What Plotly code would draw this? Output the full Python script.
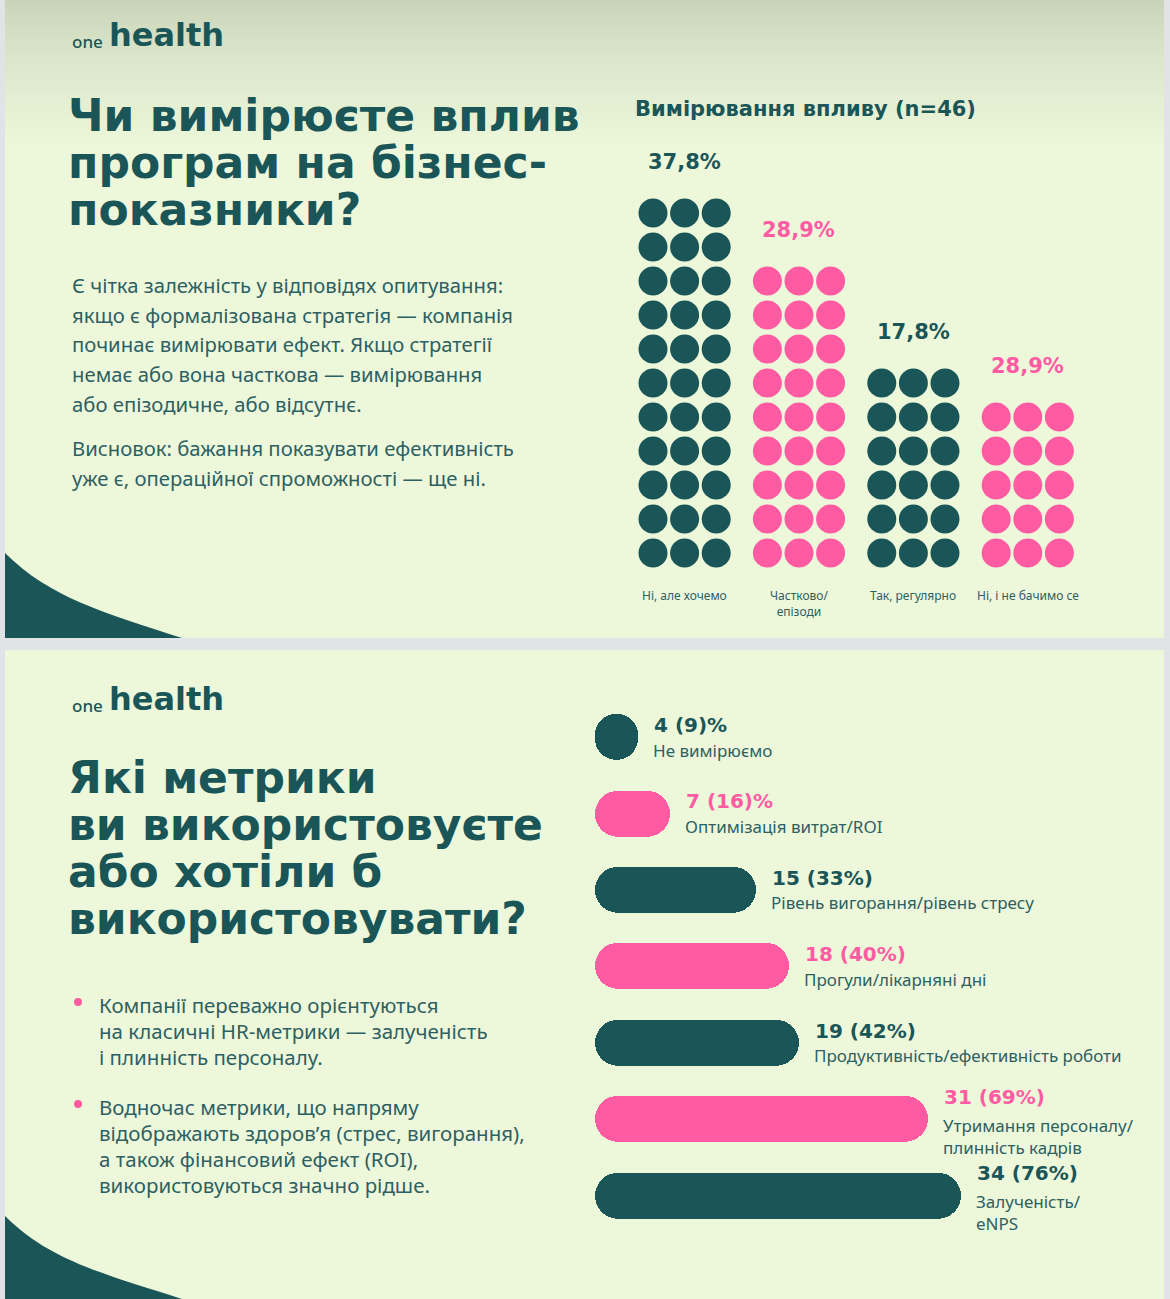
import plotly.graph_objects as go

# ------------------------------------------------------------------ data
impact_title = "Вимірювання впливу (n=46)"
impact_categories = ["Ні, але хочемо", "Частково/<br>епізоди", "Так, регулярно", "Ні, і не бачимо се"]
impact_pct_labels = ["37,8%", "28,9%", "17,8%", "28,9%"]
impact_dot_rows = [11, 9, 6, 5]          # rows of 3 dots per column

metric_names = [
    "Не вимірюємо",
    "Оптимізація витрат/ROI",
    "Рівень вигорання/рівень стресу",
    "Прогули/лікарняні дні",
    "Продуктивність/ефективність роботи",
    "Утримання персоналу/<br>плинність кадрів",
    "Залученість/<br>eNPS",
]
metric_counts = [4, 7, 15, 18, 19, 31, 34]
metric_value_labels = ["4 (9)%", "7 (16)%", "15 (33%)", "18 (40%)", "19 (42%)", "31 (69%)", "34 (76%)"]

slide1_title = ["Чи вимірюєте вплив", "програм на бізнес-", "показники?"]
slide1_body = [
    "Є чітка залежність у відповідях опитування:",
    "якщо є формалізована стратегія — компанія",
    "починає вимірювати ефект. Якщо стратегії",
    "немає або вона часткова — вимірювання",
    "або епізодичне, або відсутнє.",
]
slide1_body2 = [
    "Висновок: бажання показувати ефективність",
    "уже є, операційної спроможності — ще ні.",
]
slide2_title = ["Які метрики", "ви використовуєте", "або хотіли б", "використовувати?"]
slide2_bullets = [
    ["Компанії переважно орієнтуються", "на класичні HR-метрики — залученість", "і плинність персоналу."],
    ["Водночас метрики, що напряму", "відображають здоров’я (стрес, вигорання),",
     "а також фінансовий ефект (ROI),", "використовуються значно рідше."],
]

# ------------------------------------------------------------------ style
W, H = 1170, 1299
TEAL = "#1A5558"
TEXT = "#2E6062"
PINK = "#FF5BA3"
BG = "#EDF8DB"
FRAME = "#E2E3E7"
HEAVY = "DejaVu Sans, Inter, sans-serif"
BODY = "Noto Sans, Lato, sans-serif"


def fx(px):
    return px / W


def fy(py):
    return 1 - py / H


def mix(c1, c2, t):
    a = [int(c1[i:i + 2], 16) for i in (1, 3, 5)]
    b = [int(c2[i:i + 2], 16) for i in (1, 3, 5)]
    return "#" + "".join(f"{round(a[k] + (b[k] - a[k]) * t):02x}" for k in range(3))


fig = go.Figure()
shapes = []
annotations = []

# slide backgrounds
SL, SR = 5, 1164
shapes.append(dict(type="rect", xref="paper", yref="paper", x0=fx(SL), x1=fx(SR), y0=fy(638), y1=fy(0),
                   fillcolor=BG, line_width=0, layer="below"))
shapes.append(dict(type="rect", xref="paper", yref="paper", x0=fx(SL), x1=fx(SR), y0=fy(1299), y1=fy(650),
                   fillcolor=BG, line_width=0, layer="below"))
# top gradient of slide 1
NB = 30
for i in range(NB):
    t = i / (NB - 1)
    shapes.append(dict(type="rect", xref="paper", yref="paper", x0=fx(SL), x1=fx(SR),
                       y0=fy(i * 5 + 5), y1=fy(i * 5), fillcolor=mix("#C9D4BA", BG, t ** 0.8),
                       line_width=0, layer="below"))


def wave(top, bottom):
    p = (f"M {fx(SL)},{fy(top)} C {fx(50)},{fy(top + 45)} {fx(105)},{fy(bottom - 25)} "
         f"{fx(182)},{fy(bottom)} L {fx(SL)},{fy(bottom)} Z")
    return dict(type="path", xref="paper", yref="paper", path=p, fillcolor=TEAL, line_width=0, layer="below")


shapes.append(wave(553, 638))
shapes.append(wave(1216, 1299))


def text(px, py, s, size, color=TEXT, family=BODY, weight=400, anchor="left", yanchor="middle"):
    annotations.append(dict(xref="paper", yref="paper", x=fx(px), y=fy(py), text=s, showarrow=False,
                            xanchor=anchor, yanchor=yanchor,
                            font=dict(size=size, color=color, family=family, weight=weight)))


# logos
for ly in (38, 702):
    text(70, ly + 3, "one", 17, TEAL, BODY, 500)
    text(107, ly - 3, "health", 32, TEAL, HEAVY, 700)

# slide 1 texts
for i, line in enumerate(slide1_title):
    text(66, 115 + i * 47.5, line, 44, TEAL, HEAVY, 900)
for i, line in enumerate(slide1_body):
    text(70, 285 + i * 29.7, line, 20.3, TEXT)
for i, line in enumerate(slide1_body2):
    text(70, 448 + i * 30, line, 20.3, TEXT)
text(633, 109, impact_title, 21, TEAL, HEAVY, 800)

# slide 2 texts
for i, line in enumerate(slide2_title):
    text(66, 778 + i * 46.7, line, 44, TEAL, HEAVY, 900)
by = [1005, 1107]
for b, lines in enumerate(slide2_bullets):
    shapes.append(dict(type="circle", xref="paper", yref="paper", x0=fx(74), x1=fx(82),
                       y0=fy(by[b] + 1), y1=fy(by[b] - 7), fillcolor=PINK, line_width=0))
    for i, line in enumerate(lines):
        text(97, by[b] + i * 26, line, 20.5, TEXT)

# ------------------------------------------------------------------ dot chart (axis x / y)
COL_STEP = 3.62
DOT_PX = 31.6
ROW0_PX, ROW_PX = 553, 34
X_LO, X_HI = -0.8, 13.8
Y_LO, Y_HI = -1.6, 12.1
x_left_px = 653 + X_LO * DOT_PX
x_right_px = 653 + X_HI * DOT_PX
y_bot_px = ROW0_PX - Y_LO * ROW_PX
y_top_px = ROW0_PX - Y_HI * ROW_PX

for c, nrows in enumerate(impact_dot_rows):
    col = TEAL if c % 2 == 0 else PINK
    xs, ys = [], []
    for r in range(nrows):
        for j in range(3):
            xs.append(c * COL_STEP + j)
            ys.append(r)
    fig.add_trace(go.Scatter(x=xs, y=ys, mode="markers", xaxis="x", yaxis="y",
                             marker=dict(size=29, color=col, line_width=0),
                             hoverinfo="skip", showlegend=False, cliponaxis=False))
    annotations.append(dict(xref="x", yref="y", x=c * COL_STEP + 1, y=nrows - 1 + 1.5,
                            text=impact_pct_labels[c], showarrow=False,
                            font=dict(size=21, color=col, family=HEAVY, weight=800)))
    annotations.append(dict(xref="x", yref="y", x=c * COL_STEP + 1, y=-0.95, yanchor="top",
                            text=impact_categories[c], showarrow=False,
                            font=dict(size=12, color=TEXT, family=BODY)))

# ------------------------------------------------------------------ pill bars (axis x2 / y2)
BX0, BX1 = 595, 1165
BMAX = 53.0
ROWS_TOP_PX, ROW_STEP = 737, 76.4
n = len(metric_counts)
y2_top_px = ROWS_TOP_PX - 0.5 * ROW_STEP
y2_bot_px = ROWS_TOP_PX + (n - 0.5) * ROW_STEP
THICK = 46
bar_w = THICK / ROW_STEP
idx = list(range(n))
cols = [TEAL if i % 2 == 0 else PINK for i in idx]
EPS = 1e-6  # explicit (non-zero) base so both ends of the pill get rounded

fig.add_trace(go.Bar(x=[v - EPS for v in metric_counts], base=[EPS] * n, y=idx, orientation="h",
                     width=bar_w, marker=dict(color=cols, line_width=0, cornerradius="50%"),
                     xaxis="x2", yaxis="y2", hoverinfo="skip", showlegend=False))

for i in idx:
    nl = metric_names[i].count("<br>") + 1
    annotations.append(dict(xref="x2", yref="y2", x=metric_counts[i], y=i, xanchor="left", yanchor="middle",
                            xshift=14, yshift=12 + 10 * (nl - 1), text=metric_value_labels[i], showarrow=False,
                            font=dict(size=20, color=cols[i], family=HEAVY, weight=800)))
    annotations.append(dict(xref="x2", yref="y2", x=metric_counts[i], y=i, xanchor="left", yanchor="middle",
                            align="left", xshift=13, yshift=-(13 + 4 * (nl - 1)), text=metric_names[i],
                            showarrow=False, font=dict(size=17, color=TEXT, family=BODY)))

axis_off = dict(showgrid=False, zeroline=False, showticklabels=False, showline=False, ticks="")
fig.update_layout(
    width=W, height=H, margin=dict(l=0, r=0, t=0, b=0),
    paper_bgcolor=FRAME, plot_bgcolor="rgba(0,0,0,0)",
    shapes=shapes, annotations=annotations, bargap=0,
    xaxis=dict(domain=[fx(x_left_px), fx(x_right_px)], range=[X_LO, X_HI], **axis_off),
    yaxis=dict(domain=[fy(y_bot_px), fy(y_top_px)], range=[Y_LO, Y_HI], **axis_off),
    xaxis2=dict(domain=[fx(BX0), fx(BX1)], range=[0, BMAX], anchor="y2", **axis_off),
    yaxis2=dict(domain=[fy(y2_bot_px), fy(y2_top_px)], range=[n - 0.5, -0.5], anchor="x2", **axis_off),
    showlegend=False,
)

fig.write_html("out.html")
